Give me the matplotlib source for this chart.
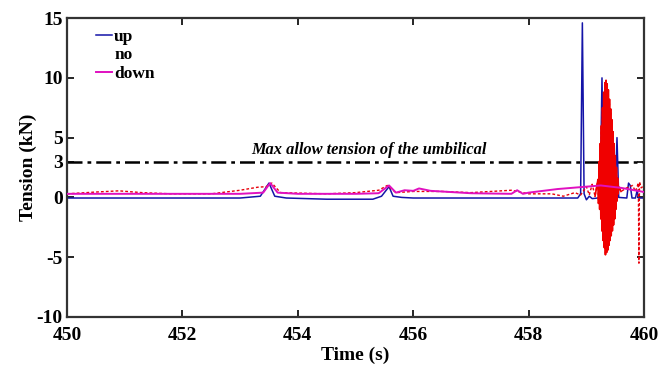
import matplotlib
matplotlib.use('Agg')
import matplotlib.pyplot as plt
import numpy as np
from matplotlib.lines import Line2D

# tension time histories (kN)
up_t = [450.0, 451.0, 452.0, 453.0, 453.35, 453.5, 453.6, 453.8, 454.5, 455.3,
        455.45, 455.58, 455.65, 455.8, 456.0, 457.0, 458.0, 458.85, 458.9,
        458.93, 458.96, 459.0, 459.05, 459.1, 459.2, 459.24, 459.27, 459.3,
        459.4, 459.5, 459.53, 459.56, 459.7, 459.73, 459.76, 459.79, 459.85,
        459.88, 459.9, 460.0]
up_v = [-0.05, -0.05, -0.05, -0.05, 0.1, 1.2, 0.1, -0.05, -0.15, -0.15,
        0.1, 0.9, 0.1, 0.0, -0.05, -0.05, -0.05, -0.05, 0.3,
        14.6, 0.3, -0.2, 0.1, -0.1, -0.05, 0.2, 10.0, 0.4,
        0.3, 0.2, 5.0, 0.0, -0.05, 1.2, 1.0, -0.05, -0.05,
        0.6, -0.05, -0.05]

down_t = [450.0, 451.0, 452.0, 453.0, 453.4, 453.52, 453.65, 454.0, 455.0,
          455.4, 455.58, 455.7, 455.85, 456.0, 456.1, 456.3, 457.0, 457.7,
          457.8, 457.9, 458.0, 458.5, 459.0, 459.25, 459.6, 460.0]
down_v = [0.3, 0.3, 0.3, 0.3, 0.4, 1.2, 0.4, 0.3, 0.3,
          0.35, 1.0, 0.4, 0.6, 0.55, 0.75, 0.55, 0.35, 0.3,
          0.6, 0.3, 0.4, 0.7, 0.9, 1.0, 0.8, 0.45]

no_t = [450.0, 450.5, 450.9, 451.3, 451.8, 452.5, 453.0, 453.3, 453.45,
        453.55, 453.7, 454.5, 455.0, 455.4, 455.55, 455.7, 456.0, 456.5,
        457.0, 457.7, 458.0, 458.4, 458.6, 458.8, 458.9, 459.0, 459.05,
        459.1, 459.15,
        459.20, 459.21, 459.22, 459.23, 459.24, 459.25, 459.26, 459.27,
        459.28, 459.29, 459.30, 459.31, 459.32, 459.33, 459.34, 459.35,
        459.36, 459.37, 459.38, 459.39, 459.40, 459.41, 459.42, 459.43,
        459.44, 459.45, 459.46, 459.47, 459.48, 459.49, 459.50, 459.51,
        459.52, 459.53, 459.54, 459.55, 459.56,
        459.6, 459.7, 459.8, 459.85, 459.9, 459.91, 459.92, 459.95, 460.0]
no_v = [0.3, 0.45, 0.55, 0.4, 0.3, 0.3, 0.6, 0.85, 0.9,
        1.2, 0.4, 0.3, 0.4, 0.6, 1.0, 0.4, 0.5, 0.5,
        0.4, 0.6, 0.3, 0.3, 0.1, 0.4, 0.2, 0.9, 0.2,
        1.1, 0.1,
        1.5, -0.5, 3.0, -1.0, 4.5, -1.8, 6.0, -2.8,
        7.5, -3.6, 8.8, -4.2, 9.6, -4.8, 9.8, -4.6,
        9.5, -4.4, 9.0, -4.0, 8.2, -3.6, 7.4, -3.2,
        6.5, -2.8, 5.5, -2.3, 4.5, -1.8, 3.5, -1.0,
        2.5, -0.3, 1.6, 0.3, 0.9,
        0.5, 0.8, 1.0, 0.5, 1.2, -5.5, 1.3, 0.8, 1.0]

max_allow = 3.0
xticks = [450, 452, 454, 456, 458, 460]
yticks = [-10, -5, 0, 3, 5, 10, 15]

plt.rcParams['font.family'] = ['Liberation Serif', 'DejaVu Serif']
plt.rcParams['font.weight'] = 'bold'
plt.rcParams['axes.unicode_minus'] = False

fig = plt.figure(figsize=(6.72, 3.69), dpi=100)
ax = fig.add_axes([0.0997, 0.141, 0.8588, 0.810])

no_t = np.array(no_t)
no_v = np.array(no_v)
burst = (no_t >= 459.15) & (no_t <= 459.6)

ax.plot(no_t, no_v, color='#e8000b', lw=1.0, ls=(0, (2, 1.5)), zorder=3)
ax.plot(no_t[burst], no_v[burst], color='#f00000', lw=1.2, zorder=3)
ax.plot(up_t, up_v, color='#1414a8', lw=1.1, zorder=2)
ax.plot(down_t, down_v, color='#e010c0', lw=1.4, zorder=4)
ax.axhline(max_allow, color='black', lw=1.8, ls=(0, (6, 2, 1.5, 2)), zorder=1)
ax.text(453.2, 4.0, 'Max allow tension of the umbilical', fontsize=11.8,
        fontstyle='italic', fontweight='bold', va='center')

ax.set_xlim(450, 460)
ax.set_ylim(-10, 15)
ax.set_xticks(xticks)
ax.set_yticks(yticks)
ax.tick_params(direction='in', length=5, width=1.2, top=True, right=True,
               labelsize=14)
ax.tick_params(axis='x', pad=7)
ax.tick_params(axis='y', pad=3)
for s in ax.spines.values():
    s.set_linewidth(1.6)
    s.set_color('#333333')
ax.set_xlabel('Time (s)', fontsize=14, fontweight='bold', labelpad=2)
ax.set_ylabel('Tension (kN)', fontsize=14, fontweight='bold', labelpad=0)

handles = [Line2D([], [], color='#1414a8', lw=1.1),
           Line2D([], [], color='none'),
           Line2D([], [], color='#e010c0', lw=1.4)]
ax.legend(handles, ['up', 'no', 'down'], loc='upper left', frameon=False,
          fontsize=12.5, handlelength=0.9, handletextpad=0.15,
          labelspacing=0.15, borderaxespad=0.2, bbox_to_anchor=(0.032, 1.0))

fig.savefig('out.png', dpi=100)
